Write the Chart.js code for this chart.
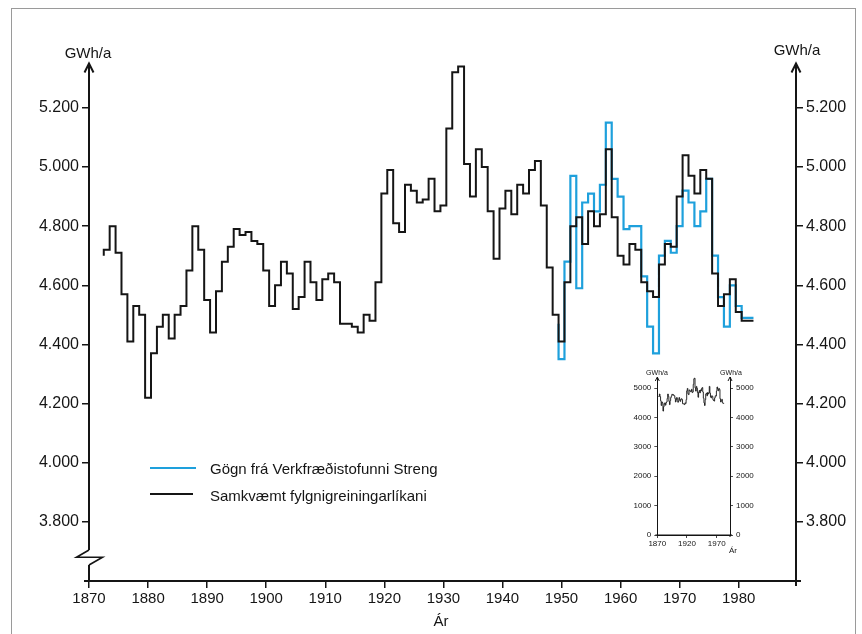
<!DOCTYPE html>
<html><head><meta charset="utf-8">
<script src="https://cdn.jsdelivr.net/npm/chart.js@4.4.1/dist/chart.umd.min.js"></script>
<style>
html,body{margin:0;padding:0;background:#fff;}
#wrap{position:relative;width:862px;height:634px;overflow:hidden;font-family:"Liberation Sans",Arial,sans-serif;color:#151515;}
#frame{position:absolute;left:11px;top:8px;width:843px;height:700px;border:1px solid #9a9a9a;}
#main{position:absolute;left:0;top:0;}
#inset{position:absolute;left:600px;top:360px;}
.t{position:absolute;white-space:nowrap;line-height:16px;font-size:15px;}
.c{transform:translateX(-50%);}
.s{position:absolute;white-space:nowrap;line-height:8px;font-size:7px;}
.ln{position:absolute;}
</style></head>
<body>
<div id="wrap">
<div id="frame"></div>
<canvas id="main" width="862" height="634"></canvas>
<canvas id="inset" width="160" height="200"></canvas>
<div class="t c" style="left:88px;top:45px;">GWh/a</div>
<div class="t c" style="left:797px;top:42px;">GWh/a</div>
<div class="t c" style="left:441px;top:613px;">Ár</div>
<div class="ln" style="left:150px;top:466.5px;width:46px;height:2.2px;background:#1ea0dc;"></div>
<div class="t" style="left:210px;top:461px;">Gögn frá Verkfræðistofunni Streng</div>
<div class="ln" style="left:150px;top:493px;width:43px;height:1.6px;background:#151515;"></div>
<div class="t" style="left:210px;top:487.5px;">Samkvæmt fylgnigreiningarlíkani</div>
<div class="s c" style="left:657px;top:369px;">GWh/a</div>
<div class="s c" style="left:731px;top:369px;">GWh/a</div>
<div class="s" style="left:729px;top:547px;font-size:8px;">Ár</div>
</div>
<script>
// ---- data (GWh/a) ----
const modelYears = [1873,1874,1875,1876,1877,1878,1879,1880,1881,1882,
  1883,1884,1885,1886,1887,1888,1889,1890,1891,1892,
  1893,1894,1895,1896,1897,1898,1899,1900,1901,1902,
  1903,1904,1905,1906,1907,1908,1909,1910,1911,1912,
  1913,1914,1915,1916,1917,1918,1919,1920,1921,1922,
  1923,1924,1925,1926,1927,1928,1929,1930,1931,1932,
  1933,1934,1935,1936,1937,1938,1939,1940,1941,1942,
  1943,1944,1945,1946,1947,1948,1949,1950,1951,1952,
  1953,1954,1955,1956,1957,1958,1959,1960,1961,1962,
  1963,1964,1965,1966,1967,1968,1969,1970,1971,1972,
  1973,1974,1975,1976,1977,1978,1979,1980,1981,1982];
const modelValues = [4700,4720,4800,4710,4570,4410,4530,4500,4220,4370,
  4460,4500,4420,4500,4530,4650,4800,4720,4550,4440,
  4580,4680,4730,4790,4770,4780,4750,4740,4650,4530,
  4600,4680,4640,4520,4560,4680,4610,4550,4620,4640,
  4610,4470,4470,4460,4440,4500,4480,4610,4910,4990,
  4810,4780,4940,4920,4880,4890,4960,4850,4870,5130,
  5320,5340,5010,4900,5060,5000,4850,4690,4860,4920,
  4840,4940,4910,4990,5020,4870,4660,4500,4410,4610,
  4800,4830,4740,4850,4800,4840,5060,4830,4700,4670,
  4740,4720,4610,4580,4560,4670,4740,4730,4900,5040,
  4970,4910,4990,4960,4640,4530,4570,4620,4510,4480];
const strengYears = [1950,1951,1952,1953,1954,1955,1956,1957,1958,1959,
  1960,1961,1962,1963,1964,1965,1966,1967,1968,1969,
  1970,1971,1972,1973,1974,1975,1976,1977,1978,1979,
  1980,1981,1982];
const strengValues = [4470,4350,4680,4970,4590,4880,4910,4850,4940,5150,
  4960,4900,4790,4800,4800,4630,4460,4370,4700,4750,
  4710,4800,4920,4880,4800,4850,4960,4700,4560,4460,
  4600,4530,4490];
const mainYTicks = [3800,4000,4200,4400,4600,4800,5000,5200];
const mainXTicks = [1870,1880,1890,1900,1910,1920,1930,1940,1950,1960,1970,1980];
const insetYTicks = [0,1000,2000,3000,4000,5000];
const insetXTicks = [1870,1920,1970];
const seriesNames = ['Samkvæmt fylgnigreiningarlíkani','Gögn frá Verkfræðistofunni Streng'];

// yearly values drawn as steps centred on each year
function stepPoints(ys, vs){
  const pts = ys.map((yr,i)=>({x:yr-0.5, y:vs[i]}));
  pts.push({x:ys[ys.length-1]+0.5, y:vs[vs.length-1]});
  return pts;
}
function dotted(v){ const s=String(v); return s.length>3 ? s.slice(0,s.length-3)+'.'+s.slice(-3) : s; }

Chart.defaults.font.family = '"Liberation Sans", Arial, sans-serif';
Chart.defaults.color = '#151515';

const INK = '#151515';
const axisDecor = (opts) => ({
  id:'axisDecor',
  afterDraw(chart){
    const {ctx, chartArea:a} = chart;
    ctx.save();
    ctx.strokeStyle = INK; ctx.lineWidth = opts.lw; ctx.lineJoin='miter';
    [a.left, a.right].forEach(x=>{
      ctx.beginPath(); ctx.moveTo(x-opts.ar, a.top+opts.ar*2); ctx.lineTo(x, a.top); ctx.lineTo(x+opts.ar, a.top+opts.ar*2); ctx.stroke();
    });
    ctx.beginPath(); ctx.moveTo(a.left-opts.ext, a.bottom); ctx.lineTo(a.right+opts.ext, a.bottom); ctx.stroke();
    ctx.beginPath(); ctx.moveTo(a.right, a.bottom); ctx.lineTo(a.right, a.bottom+opts.ext); ctx.stroke();
    if (opts.brk){
      ctx.fillStyle='#fff'; ctx.fillRect(a.left-3, a.bottom-31, 6, 15);
      ctx.lineWidth = 1.6;
      ctx.beginPath();
      ctx.moveTo(a.left, a.bottom-31);
      ctx.lineTo(a.left-12.5, a.bottom-23.7);
      ctx.lineTo(a.left+13.5, a.bottom-23.7);
      ctx.lineTo(a.left, a.bottom-16);
      ctx.stroke();
    }
    ctx.restore();
  }
});

function yAxis(pos, min, max, ticks, width, fontSize, tickLen, lw, fmt, pad){
  return {
    type:'linear', position:pos, min:min, max:max,
    afterBuildTicks: s => { s.ticks = ticks.map(v=>({value:v})); },
    afterFit: s => { s.width = width; },
    ticks:{ font:{size:fontSize}, color:INK, padding:pad, callback: fmt },
    grid:{ display:true, drawOnChartArea:false, drawTicks:true, tickLength:tickLen, color:INK, lineWidth:lw*0.75 },
    border:{ display:true, color:INK, width:lw }
  };
}

new Chart(document.getElementById('main'), {
  type:'line',
  data:{ datasets:[
    { label:seriesNames[0], data:stepPoints(modelYears, modelValues), borderColor:INK, borderWidth:2, stepped:'after', pointRadius:0, fill:false },
    { label:seriesNames[1], data:stepPoints(strengYears, strengValues), borderColor:'#1ea0dc', borderWidth:2.2, stepped:'after', pointRadius:0, fill:false }
  ]},
  options:{
    responsive:false, animation:false, devicePixelRatio:1,
    layout:{ padding:{ top:63.5, left:0, right:0, bottom:0 } },
    plugins:{ legend:{display:false}, tooltip:{enabled:false} },
    scales:{
      x:{ type:'linear', position:'bottom', min:1870, max:1989.7,
        afterBuildTicks: s => { s.ticks = mainXTicks.map(v=>({value:v})); },
        afterFit: s => { s.height = 53; },
        ticks:{ font:{size:15}, color:INK, padding:2, maxRotation:0, autoSkip:false, callback: v => String(v) },
        grid:{ display:true, drawOnChartArea:false, drawTicks:true, tickLength:7, color:INK, lineWidth:1.5 },
        border:{ display:true, color:INK, width:2 } },
      y: yAxis('left', 3600, 5350, mainYTicks, 89, 16, 7, 2, dotted, 3),
      y2: yAxis('right', 3600, 5350, mainYTicks, 66, 16, 7, 2, dotted, 3)
    }
  },
  plugins:[axisDecor({lw:2, ar:4.5, ext:5, brk:true})]
});

new Chart(document.getElementById('inset'), {
  type:'line',
  data:{ datasets:[
    { label:seriesNames[0], data:stepPoints(modelYears, modelValues), borderColor:INK, borderWidth:0.9, stepped:'after', pointRadius:0, fill:false }
  ]},
  options:{
    responsive:false, animation:false, devicePixelRatio:1,
    layout:{ padding:{ top:17, left:0, right:0, bottom:0 } },
    plugins:{ legend:{display:false}, tooltip:{enabled:false} },
    scales:{
      x:{ type:'linear', position:'bottom', min:1870, max:1992.4,
        afterBuildTicks: s => { s.ticks = insetXTicks.map(v=>({value:v})); },
        afterFit: s => { s.height = 25; },
        ticks:{ font:{size:8}, color:INK, padding:1, maxRotation:0, autoSkip:false, callback: v => String(v) },
        grid:{ display:true, drawOnChartArea:false, drawTicks:true, tickLength:3, color:INK, lineWidth:0.8 },
        border:{ display:true, color:INK, width:1 } },
      y: yAxis('left', 0, 5380, insetYTicks, 57.3, 8, 3, 1, v => String(v), 3),
      y2: yAxis('right', 0, 5380, insetYTicks, 30, 8, 3, 1, v => String(v), 3)
    }
  },
  plugins:[axisDecor({lw:1, ar:2, ext:2, brk:false})]
});
</script>
</body></html>
